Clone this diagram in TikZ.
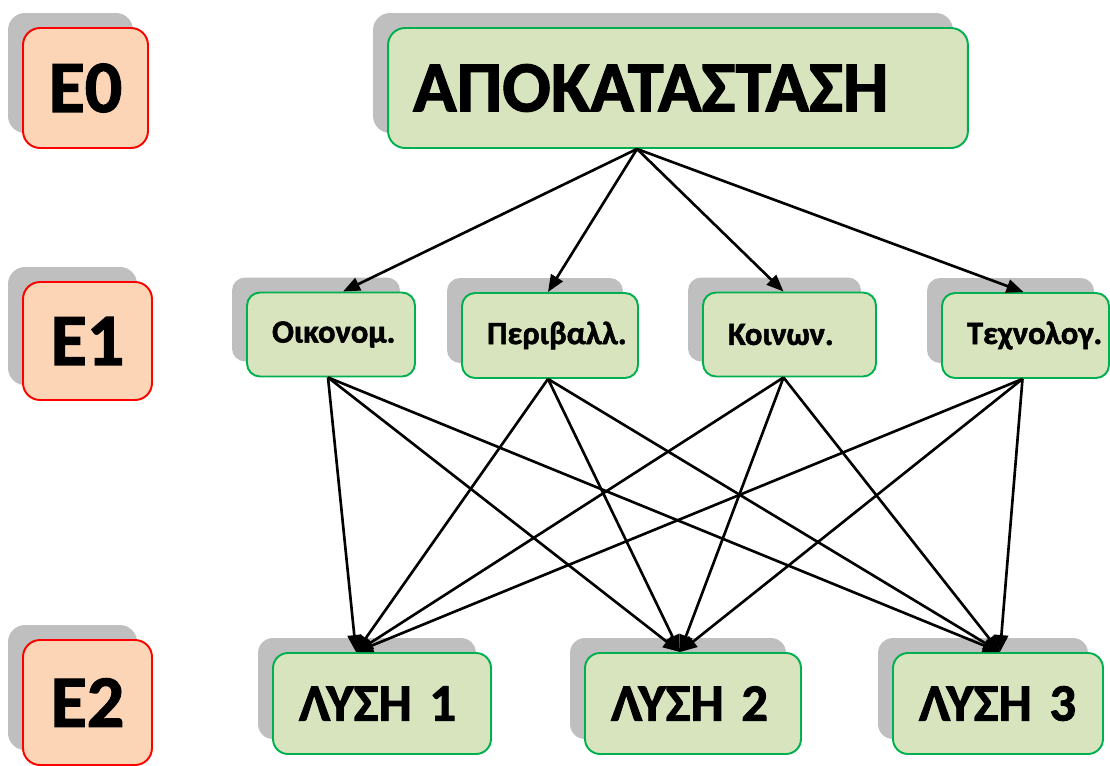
\documentclass[tikz,border=0pt]{standalone}
\usepackage{fontspec}
\setmainfont{Carlito}[BoldFont={Carlito Bold}, BoldFeatures={FakeBold=1.6}, WordSpace=0.7]
\usepackage{tikz}
\usetikzlibrary{calc,positioning,arrows.meta,shadows}
\definecolor{peach}{HTML}{FBD5B5}
\definecolor{leaf}{HTML}{D7E4BD}
\definecolor{leafline}{HTML}{00B050}
\definecolor{shade}{HTML}{BFBFBF}

\begin{document}
\begin{tikzpicture}[x=0.02cm, y=-0.02cm]
\tikzstyle{shadowed}=[general shadow={fill=shade, shadow xshift=-0.3cm, shadow yshift=0.3cm}]
\tikzstyle{level}=[rectangle, rounded corners=0.34cm, draw=red, line width=1.1pt,
                   fill=peach, minimum width=2.5cm, minimum height=2.4cm,
                   font=\bfseries\fontsize{42}{48}\selectfont, shadowed]
\tikzstyle{goal}=[rectangle, rounded corners=0.34cm, draw=leafline, line width=1.1pt,
                  fill=leaf, minimum height=2.4cm, inner xsep=0.5cm, align=left,
                  font=\bfseries\fontsize{41}{46}\selectfont, shadowed]
\tikzstyle{crit}=[rectangle, rounded corners=0.26cm, draw=leafline, line width=1.1pt,
                  fill=leaf, minimum height=1.68cm, inner xsep=0.5cm, align=left,
                  font=\bfseries\fontsize{18.5}{22}\selectfont, shadowed]
\tikzstyle{sol}=[rectangle, rounded corners=0.3cm, draw=leafline, line width=1.1pt,
                 fill=leaf, minimum height=2.02cm, inner xsep=0.52cm, align=left,
                 font=\bfseries\fontsize{30}{36}\selectfont, shadowed]
\tikzstyle{arr}=[line width=1.5pt, -{Triangle[length=0.34cm,width=0.27cm]}]

\useasboundingbox (0,0) rectangle (1110,765);

% levels
\node[level] (e0) at (85.5, 88) {E0};
\node[level, minimum width=2.58cm, minimum height=2.36cm] (e1) at (87.5, 341) {E1};
\node[level, minimum width=2.58cm, minimum height=2.5cm] (e2) at (87.5, 702.5) {E2};

% goal
\node[goal, text width=10.6cm] (apo) at (678, 88) {ΑΠΟΚΑΤΑΣΤΑΣΗ};

% criteria
\node[crit, text width=2.36cm] (oik) at (331, 334.5) {Οικονομ.};
\node[crit, text width=2.52cm, minimum height=1.7cm] (per) at (550, 335.5) {Περιβαλλ.};
\node[crit, text width=2.46cm] (koi) at (789.5, 334.5) {Κοινων.};
\node[crit, text width=2.34cm, minimum height=1.7cm] (tech) at (1025.5, 335.5) {Τεχνολογ.};

% solutions
\node[sol, text width=3.32cm] (s1) at (382, 703.5) {ΛΥΣΗ 1};
\node[sol, text width=3.28cm] (s2) at (693, 703.5) {ΛΥΣΗ 2};
\node[sol, text width=3.16cm] (s3) at (998, 703.5) {ΛΥΣΗ 3};

\coordinate (hub) at ($(apo.south)+(-41,0)$);
\coordinate (oik b) at ($(oik.south)+(-3,0)$);
\coordinate (per b) at ($(per.south)+(-2,0)$);
\coordinate (koi b) at ($(koi.south)+(-6,0)$);
\coordinate (tech b) at ($(tech.south)+(-3,0)$);
\coordinate (s1 t) at ($(s1.north)+(-26,0)$);
\coordinate (s2 t) at ($(s2.north)+(-13,0)$);
\coordinate (s3 t) at ($(s3.north)+(2,0)$);

\foreach \n/\s in {oik/12,per/-2,koi/-6,tech/-2}{\draw[arr] (hub) -- ([xshift=\s*0.02cm]\n.north);}
\foreach \i in {oik,per,koi,tech}{
  \foreach \j in {s1,s2,s3}{\draw[arr] (\i\space b) -- (\j\space t);}
}
\end{tikzpicture}
\end{document}
